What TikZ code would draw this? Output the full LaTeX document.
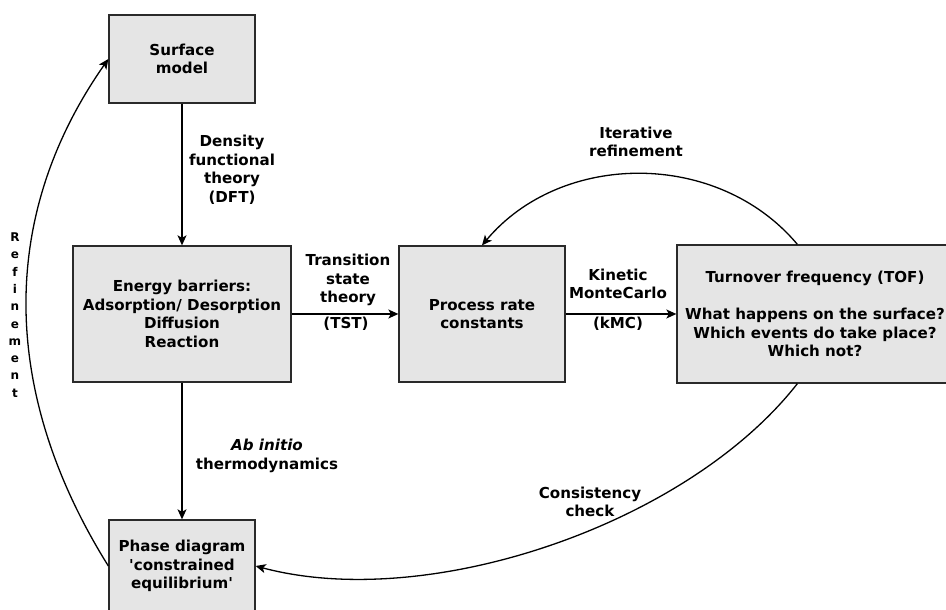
\documentclass[tikz,border=0pt]{standalone}
\usepackage{fontspec}
\setmainfont{DejaVu Sans}
\usetikzlibrary{calc,arrows.meta}
\definecolor{boxfill}{HTML}{E5E5E5}
\definecolor{boxline}{HTML}{2A2A2A}

\begin{document}
\begin{tikzpicture}[x=1pt,y=1pt,
 box/.style={draw=boxline,fill=boxfill,line width=1.3pt,inner sep=0pt,align=center,font=\fontsize{15.1}{18.5}\selectfont\bfseries},
 lbl/.style={align=center,font=\fontsize{15.1}{18.5}\selectfont\bfseries},
 arr/.style={line width=1.3pt,-{Stealth[length=10pt,width=9pt,inset=2.5pt]}}]
\useasboundingbox (0,0) rectangle (946,610);
% boxes
\node[box,minimum width=146,minimum height=88] (surf) at (182,551) {Surface\\model};
\node[box,minimum width=218,minimum height=136] (barr) at (182,296) {Energy barriers:\\Adsorption/ Desorption\\Diffusion\\Reaction};
\node[box,minimum width=166,minimum height=136] (rate) at (482,296) {Process rate\\constants};
\node[box,minimum width=276,minimum height=138] (tof) at (815,296) {Turnover frequency (TOF)\\[18.5pt]What happens on the surface?\\Which events do take place?\\Which not?};
\node[box,minimum width=146,minimum height=92] (phase) at (182,44) {Phase diagram\\\textquotesingle constrained\\equilibrium\textquotesingle};
\coordinate (tofn) at ($(tof.north west)+(121,0)$);
\coordinate (tofs) at ($(tof.south west)+(121,0)$);
% straight arrows
\draw[arr] (surf) -- (barr);
\draw[arr] (barr) -- (rate);
\draw[arr] (rate) -- (tof);
\draw[arr] (barr) -- (phase);
% loops
\draw[arr] (tofn) to[out=130,in=50] (rate.north);
\draw[arr] (tofs) to[out=-128,in=-15,looseness=.8] (phase.east);
\draw[arr] (phase.west) to[out=122,in=-125] (surf.west);
% labels
\node[lbl] (ldft) at (232,440) {Density\\functional\\theory\\(DFT)};
\node[lbl] (ltst) at (348,330) {Transition\\state\\theory};
\node[lbl] (ltst2) at (346,286) {(TST)};
\node[lbl] (lkmc) at (618,326) {Kinetic\\MonteCarlo};
\node[lbl] (lkmc2) at (618,286) {(kMC)};
\node[lbl] (labi) at (267,154) {\itshape Ab initio\\thermodynamics};
\node[lbl] (liter) at (636,468) {Iterative\\refinement};
\node[lbl] (lcons) at (590,108) {Consistency\\check};
\node[align=center,font=\fontsize{12}{17.3}\selectfont\bfseries] (lref) at (15,295) {R\\e\\f\\i\\n\\e\\m\\e\\n\\t};
\end{tikzpicture}
\end{document}
